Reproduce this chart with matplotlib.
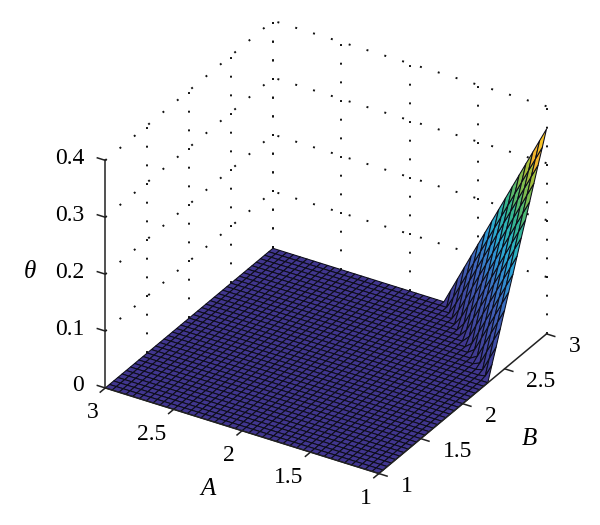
import matplotlib
matplotlib.use("Agg")
import matplotlib.pyplot as plt
from matplotlib.colors import LinearSegmentedColormap
from mpl_toolkits.mplot3d import proj3d
import numpy as np

# grid of the surface
a_vals = np.arange(41) * 0.05 + 1
b_vals = np.arange(41) * 0.05 + 1

# theta read off the raised corner, rows from A=1 upward, columns from B=3 downward
# everything not listed here sits on the floor at 0
theta_corner = [
    [.360, .334, .309, .283, .257, .231, .206, .180, .154, .129, .103, .077, .051, .026],
    [.336, .310, .285, .259, .233, .207, .182, .156, .130, .105, .079, .053, .027, .002],
    [.312, .286, .261, .235, .209, .183, .158, .132, .106, .081, .055, .029, .003],
    [.288, .262, .237, .211, .185, .159, .134, .108, .082, .057, .031, .005],
    [.264, .238, .213, .187, .161, .135, .110, .084, .058, .033, .007],
    [.240, .214, .189, .163, .137, .111, .086, .060, .034, .009],
    [.216, .190, .165, .139, .113, .087, .062, .036, .010],
    [.192, .166, .141, .115, .089, .063, .038, .012],
    [.168, .142, .117, .091, .065, .039, .014],
    [.144, .118, .093, .067, .041, .015],
    [.120, .094, .069, .043, .017],
    [.096, .070, .045, .019],
    [.072, .046, .021],
    [.048, .022],
    [.024],
]

a_ticks = [1, 1.5, 2, 2.5, 3]
b_ticks = [1, 1.5, 2, 2.5, 3]
z_ticks = [0, 0.1, 0.2, 0.3, 0.4]
a_labels = ["1", "1.5", "2", "2.5", "3"]
b_labels = ["1", "1.5", "2", "2.5", "3"]
z_labels = ["0", "0.1", "0.2", "0.3", "0.4"]

ramp = ["#41368f", "#3f62b8", "#2c9fd8", "#2cb0c0", "#35b58a", "#70bb55", "#a8bf3a", "#eeb02c", "#f7bf28", "#fae020"]
ramp_pos = [0, 0.25, 0.42, 0.5, 0.6, 0.7, 0.8, 0.85, 0.92, 1]

Z = np.zeros((41, 41))
for i, row in enumerate(theta_corner):
    for j, v in enumerate(row):
        Z[i, 40 - j] = v
B, A = np.meshgrid(b_vals, a_vals)

plt.rcParams["font.family"] = ["Liberation Serif", "DejaVu Serif"]
plt.rcParams["font.size"] = 17

fig = plt.figure(figsize=(6, 5.25), dpi=100)
# square axes centred on the cube, sizes in pixels
side = 510
cx, cy = 319, 254
ax = fig.add_axes([(cx - side / 2) / 600, (525 - cy - side / 2) / 525, side / 600, side / 525],
                  projection="3d", computed_zorder=False)
ax.set_proj_type("ortho")
ax.set_box_aspect((320, 320, 264), zoom=1.0)
ax.view_init(elev=30.7, azim=211.5)
ax.set_xlim(1, 3, view_margin=0)
ax.set_ylim(1, 3, view_margin=0)
ax.set_zlim(0, 0.4, view_margin=0)
ax.set_axis_off()


def label(x, y, z, s, **kw):
    # plain 2D text at the projected spot of a 3D point
    px, py, _ = proj3d.proj_transform(x, y, z, ax.get_proj())
    ax.text2D(px, py, s, transform=ax.transData, va="center", zorder=4, **kw)


# dotted grid on the two back walls
dots = dict(color="#111111", lw=1.4, ls=(0, (1, 8.6)), zorder=1, dash_capstyle="butt")
for z in z_ticks[1:]:
    ax.plot([1, 3], [3, 3], [z, z], **dots)
    ax.plot([3, 3], [1, 3], [z, z], **dots)
for b in b_ticks[1:]:
    ax.plot([b, b], [3, 3], [0, 0.4], **dots)
for a in a_ticks:
    ax.plot([3, 3], [a, a], [0, 0.4], **dots)

cmap = LinearSegmentedColormap.from_list("ramp", list(zip(ramp_pos, ramp)))
ax.plot_surface(B, A, Z, rstride=1, cstride=1, cmap=cmap, vmin=0, vmax=0.36,
                edgecolor="#0c0c18", linewidth=0.75, shade=False, zorder=2)

# solid axes with their ticks
solid = dict(color="#222222", lw=1.1, zorder=3)
ax.plot([1, 1], [3, 3], [0, 0.4], **solid)
ax.plot([1, 1], [1, 3], [0, 0], **solid)
ax.plot([1, 3], [1, 1], [0, 0], **solid)
for z, lab in zip(z_ticks, z_labels):
    ax.plot([1, 1], [3, 3.058], [z, z], **solid)
    label(1, 3.153, z - 0.008, lab, ha="right")
for a, lab in zip(a_ticks, a_labels):
    ax.plot([1, 0.94], [a, a], [0, 0], **solid)
    label(1 - 0.084, a, -0.0335, lab, ha="right")
for b, lab in zip(b_ticks, b_labels):
    ax.plot([b, b], [1, 0.94], [0, 0], **solid)
    label(b, 1 - 0.16, -0.0107, lab, ha="left")

label(1, 3.553, 0.162, "θ", style="italic", ha="center", fontsize=18)
label(1, 2.251, -0.1216, "A", style="italic", ha="center", fontsize=18)
label(2.796, 1, -0.160, "B", style="italic", ha="center", fontsize=18)

fig.savefig("out.png", dpi=100)
